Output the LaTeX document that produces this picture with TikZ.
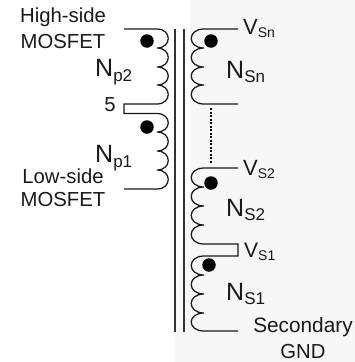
\documentclass[tikz,border=0pt]{standalone}
\usepackage{fontspec}
\setmainfont{Liberation Sans}
\newcommand{\fs}[1]{\fontsize{#1}{#1}\selectfont}
\newcommand{\coilR}[5]{(157,#1) .. controls (172,#1) and (172,#2) .. (157,#2)
 .. controls (172,#2) and (172,#3) .. (157,#3)
 .. controls (172,#3) and (172,#4) .. (157,#4)
 .. controls (172,#4) and (172,#5) .. (157,#5)}
\newcommand{\coilL}[5]{(204,#1) .. controls (187,#1) and (187,#2) .. (204,#2)
 .. controls (187,#2) and (187,#3) .. (204,#3)
 .. controls (187,#3) and (187,#4) .. (204,#4)
 .. controls (187,#4) and (187,#5) .. (204,#5)}
\tikzset{
 wire/.style={line width=1.25pt,black!90},
 core/.style={line width=1.25pt,black!80},
 dotm/.style={circle,fill=black,inner sep=0pt,minimum size=13.5pt},
 lab/.style={inner sep=0pt,font=\fs{20.3},text=black!90},
 nlab/.style={inner sep=0pt,anchor=base west,text=black!90},
}
\begin{document}
\begin{tikzpicture}[x=1pt,y=-1pt]
\useasboundingbox (0,0) rectangle (355,362);
\fill[black!3] (190,0) -- (355,0) -- (355,362) -- (175,362) -- (175,300) -- (190,200) -- cycle;
% core
\coordinate (c1t) at (175,29); \coordinate (c1b) at (175,332);
\coordinate (c2t) at (184,29); \coordinate (c2b) at (184,332);
\draw[core] (c1t) -- (c1b);
\draw[core] (c2t) -- (c2b);
% primary
\draw[wire] (124,29) -- (157,29) \coilR{29}{48}{67}{85}{104} -- (124,104) -- (124,113.5) -- (157,113.5) \coilR{113.5}{132}{151}{170}{189} -- (124,189);
% secondary
\draw[wire] (238,29) -- (204,29) \coilL{29}{48}{67}{85}{104} -- (238,104);
\draw[wire] (238,168) -- (204,168) \coilL{168}{187}{206}{225}{244} -- (238,244) -- (238,256) -- (204,256) \coilL{256}{275}{294}{313}{331} -- (238,331);
% dotted
\node[inner sep=0pt,minimum size=0pt] (dt) at (211,108) {};
\node[inner sep=0pt,minimum size=0pt] (db) at (211,164) {};
\draw[line width=1.25pt,dash pattern=on 2pt off 1.5pt] (dt) -- (db);
% dots
\node[dotm] (d1) at (147,41) {};
\node[dotm] (d2) at (147,127) {};
\node[dotm] (d3) at (211,41) {};
\node[dotm] (d4) at (211,183) {};
\node[dotm] (d5) at (209,265) {};
% labels
\node[lab] (hs) at (63,17) {High-side};
\node[lab] (hm) at (63,42) {MOSFET};
\node[lab] (five) at (110,105) {5};
\node[lab] (ls) at (63,176) {Low-side};
\node[lab] (lm) at (63,200) {MOSFET};
\node[nlab] (np2) at (95,76) {\fs{25}N\raisebox{-5pt}{\fs{17}p2}};
\node[nlab] (np1) at (95,162) {\fs{25}N\raisebox{-5pt}{\fs{17}p1}};
\node[nlab] (vsn) at (243,34) {\fs{22}V\raisebox{-3pt}{\fs{14}Sn}};
\node[nlab] (nsn) at (226,78) {\fs{25}N\raisebox{-4pt}{\fs{17}Sn}};
\node[nlab] (vs2) at (243,175) {\fs{22}V\raisebox{-3pt}{\fs{14}S2}};
\node[nlab] (ns2) at (226,216) {\fs{25}N\raisebox{-4pt}{\fs{17}S2}};
\node[nlab] (vs1) at (244,257) {\fs{21}V\raisebox{-3pt}{\fs{14}S1}};
\node[nlab] (ns1) at (226,300) {\fs{25}N\raisebox{-4pt}{\fs{17}S1}};
\node[lab,font=\fs{20.8}] (sec) at (303,327) {Secondary};
\node[lab] (gnd) at (303,352) {GND};
\end{tikzpicture}
\end{document}
